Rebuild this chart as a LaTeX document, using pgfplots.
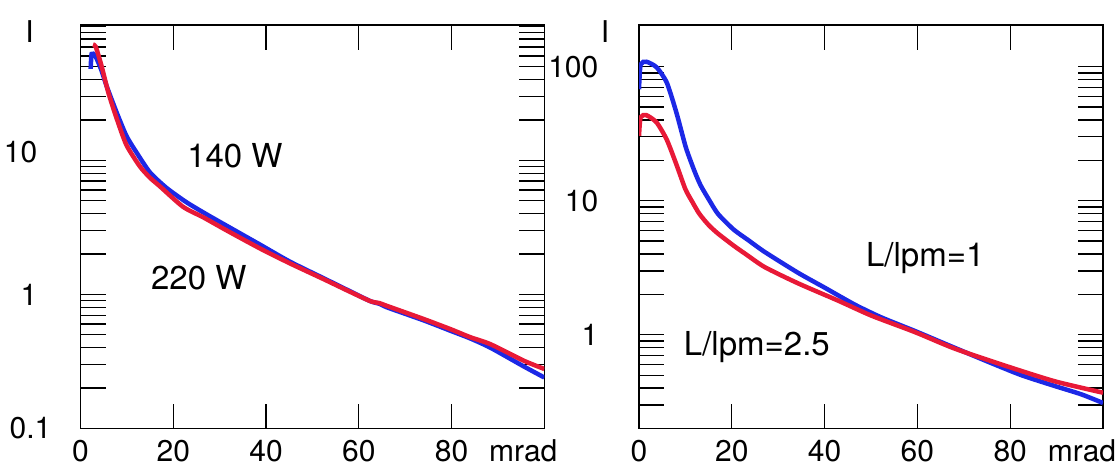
\documentclass[border=0pt]{standalone}
\usepackage{pgfplots}
\pgfplotsset{compat=1.18}
\usepackage{fontspec}
\setmainfont{TeX Gyre Heros}
\definecolor{cblue}{RGB}{28,40,230}
\definecolor{cred}{RGB}{232,25,55}
\begin{document}
\begin{tikzpicture}
\useasboundingbox (0,0) rectangle (1116pt,468pt);
% ---------------- left panel ----------------
\begin{axis}[
  ymode=log, scale only axis, height=403.5pt, width=463.8pt,
  at={(80.5pt,39.5pt)}, anchor=south west,
  xmin=0, xmax=100, ymin=0.1, ymax=102,
  xtick={0,20,40,60,80}, xticklabels={0,20,40,60,80},
  ytick={0.1,1,10},
  yticklabels={{0.1\hspace*{-14pt}},{1},{\raisebox{8pt}[\height][\depth]{10}}},
  minor ytick={0.2,0.3,0.4,0.5,0.6,0.7,0.8,0.9,2,3,4,5,6,7,8,9,20,30,40,50,60,70,80,90,100},
  tick align=inside,
  major tick length=25pt, minor tick length=25pt,
  every tick/.style={black, line width=1.3pt},
  axis line style={line width=1.5pt},
  tick label style={font=\fontsize{30}{36}\selectfont},
  xticklabel style={anchor=base, inner sep=0pt, yshift=-33pt},
  yticklabel style={anchor=east, inner sep=0pt, xshift=-43pt},
  xlabel={mrad}, ylabel={I},
  xlabel style={at={(rel axis cs:1,0)}, anchor=base, inner sep=0pt, yshift=-33pt, xshift=-21pt, font=\fontsize{30}{36}\selectfont},
  ylabel style={at={(rel axis cs:0,1)}, anchor=center, inner sep=0pt, rotate=-90, xshift=-51pt, yshift=-7pt, font=\fontsize{30}{36}\selectfont},
]
\addplot[cblue, line width=4.5pt, smooth, tension=0.4] coordinates {
(2.2,48) (2.4,62) (3.2,60) (4.5,47) (5.6,36) (7.8,22.7) (9.9,15.2) (12.1,11.4)
(15,8.1) (18.6,6.2) (22.9,4.85) (27.2,3.95) (31.5,3.25) (38.7,2.35) (45.2,1.75)
(52.4,1.32) (58,1.06) (62.5,0.89) (64.5,0.85) (66.1,0.8) (74,0.64) (79.8,0.535)
(84,0.47) (88.4,0.4) (95.6,0.29) (100,0.24)
};
\addplot[cred, line width=4.5pt, smooth, tension=0.4] coordinates {
(2.7,73) (3.3,70) (4.5,51) (6,32) (7.8,20.5) (9.9,13) (12.8,9) (15,7.4) (17.1,6.4)
(22.1,4.5) (26.5,3.75) (31.5,3.0) (38.7,2.2) (45.2,1.7) (52.4,1.3) (58,1.05)
(62.5,0.89) (64.5,0.86) (66.1,0.82) (74,0.655) (79.8,0.55) (84,0.48) (88.4,0.425)
(95.6,0.32) (100,0.278)
};
\node[font=\fontsize{33}{38}\selectfont] at (axis cs:33.3,10.8) {140 W};
\node[font=\fontsize{33}{38}\selectfont] at (axis cs:25.5,1.32) {220 W};
\end{axis}
% ---------------- right panel ----------------
\begin{axis}[
  ymode=log, scale only axis, height=403.5pt, width=464pt,
  at={(639pt,39.5pt)}, anchor=south west,
  xmin=0, xmax=100, ymin=0.2, ymax=205,
  xtick={0,20,40,60,80}, xticklabels={0,20,40,60,80},
  ytick={1,10,100},
  yticklabels={1,10,100},
  minor ytick={0.3,0.4,0.5,0.6,0.7,0.8,0.9,2,3,4,5,6,7,8,9,20,30,40,50,60,70,80,90},
  tick align=inside,
  major tick length=25pt, minor tick length=25pt,
  every tick/.style={black, line width=1.3pt},
  axis line style={line width=1.5pt},
  tick label style={font=\fontsize{30}{36}\selectfont},
  xticklabel style={anchor=base, inner sep=0pt, yshift=-33pt},
  yticklabel style={anchor=east, inner sep=0pt, xshift=-40.5pt},
  xlabel={mrad}, ylabel={I},
  xlabel style={at={(rel axis cs:1,0)}, anchor=base, inner sep=0pt, yshift=-33pt, xshift=-21pt, font=\fontsize{30}{36}\selectfont},
  ylabel style={at={(rel axis cs:0,1)}, anchor=center, inner sep=0pt, rotate=-90, xshift=-34pt, yshift=-7pt, font=\fontsize{30}{36}\selectfont},
]
\addplot[cblue, line width=4.5pt, smooth, tension=0.4] coordinates {
(0,68) (0.35,104) (1.6,109) (3.8,99) (6.0,76) (8.1,45) (10.1,25) (12,16.5) (13.3,13)
(15,10.3) (17,8) (20.4,6.1) (23.5,5.1) (27.1,4.15) (34.3,2.9) (40,2.25) (46.5,1.68)
(52.2,1.35) (59.4,1.07) (67.3,0.82) (75.2,0.63) (82.4,0.5) (89.6,0.415) (95.3,0.36)
(100,0.31)
};
\addplot[cred, line width=4.5pt, smooth, tension=0.4] coordinates {
(0,30.5) (0.35,42) (1.6,43.5) (3.8,38.4) (6.0,28.5) (8.1,18.5) (10,12.2) (11.5,9.8)
(13,8) (15,6.6) (17,5.7) (20.5,4.6) (23,4.0) (27.1,3.2) (34.3,2.42) (42.9,1.8)
(50.1,1.39) (59.4,1.05) (68,0.79) (78.8,0.59) (89.6,0.45) (100,0.37)
};
\node[font=\fontsize{33}{38}\selectfont] at (axis cs:61.7,3.77) {L/lpm=1};
\node[font=\fontsize{33}{38}\selectfont] at (axis cs:25.4,0.81) {L/lpm=2.5};
\end{axis}
\end{tikzpicture}
\end{document}
